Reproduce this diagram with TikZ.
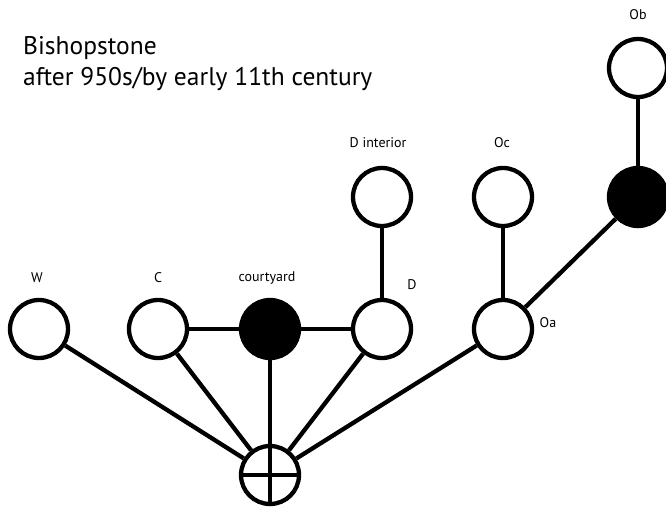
\documentclass[tikz,border=0pt]{standalone}
\usepackage{fontspec}
\setmainfont{PT Sans}
\usetikzlibrary{positioning}

\tikzset{
  room/.style={circle, draw, line width=4.3pt, minimum size=58pt, inner sep=0pt, fill=white},
  yard/.style={room, fill=black},
  lbl/.style={font=\fontsize{14}{16}\selectfont, inner sep=0pt},
  link/.style={line width=4.3pt}
}

\begin{document}
\begin{tikzpicture}[x=1pt, y=-1pt]
\useasboundingbox (0,0) rectangle (666,508);
% title
\node[anchor=base west, inner sep=0pt, font=\fontsize{25.5}{30}\selectfont] (title) at (23,55) {Bishopstone};
\node[anchor=base west, inner sep=0pt, font=\fontsize{25.5}{30}\selectfont] (period) at (23,86) {after 950s/by early 11th century};
% rooms
\node[room] (W) at (39,329) {};
\node[room] (C) at (158,329) {};
\node[yard] (court) at (270,329) {};
\node[room] (D) at (382,329) {};
\node[room] (Dint) at (382,197) {};
\node[room] (Oa) at (503,329) {};
\node[room] (Oc) at (503,197) {};
\node[yard] (Obx) at (638,197) {};
\node[room] (Ob) at (638,68) {};
\node[room] (root) at (270,475) {};
% labels
\node[lbl] (lW) at (37,278) {W};
\node[lbl] (lC) at (158,278) {C};
\node[lbl] (lcourt) at (267,278) {courtyard};
\node[lbl] (lD) at (412,285) {D};
\node[lbl] (lDint) at (378,143) {D interior};
\node[lbl] (lOc) at (502,143) {Oc};
\node[lbl] (lOa) at (548,323) {Oa};
\node[lbl] (lOb) at (638,15) {Ob};
% links
\draw[link] (W) -- (root);
\draw[link] (C) -- (root);
\draw[link] (court) -- (root);
\draw[link] (D) -- (root);
\draw[link] (Oa) -- (root);
\draw[link] (C) -- (court);
\draw[link] (court) -- (D);
\draw[link] (D) -- (Dint);
\draw[link] (Oa) -- (Oc);
\draw[link] (Oa) -- (Obx);
\draw[link] (Obx) -- (Ob);
% cross in the entrance
\draw[link] (root.north) -- (root.south);
\draw[link] (root.west) -- (root.east);
\end{tikzpicture}
\end{document}
